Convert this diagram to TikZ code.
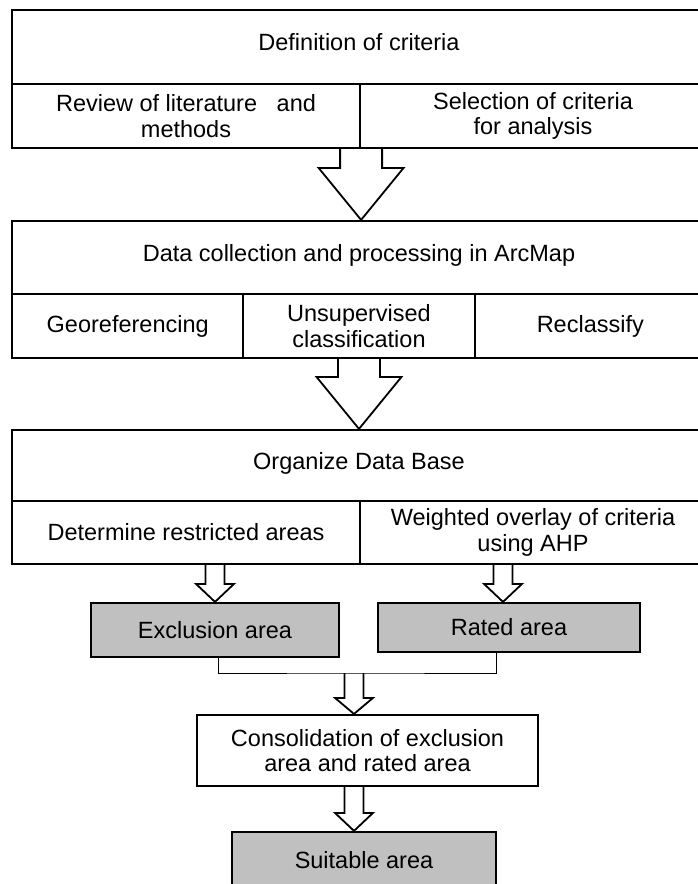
\documentclass[tikz,border=0pt]{standalone}
\usepackage{fontspec}
\setmainfont{Liberation Sans}
\usetikzlibrary{calc}
\definecolor{areagray}{RGB}{192,192,192}

% hollow block arrow: start, tip, shaft half width, head half width, head length
\newcommand{\blockarrow}[5]{%
    \draw[hollow]
        ($(#1)+(-#3,0)$) -- ($(#2)+(-#3,-#5)$) -- ($(#2)+(-#4,-#5)$) -- (#2)
        -- ($(#2)+(#4,-#5)$) -- ($(#2)+(#3,-#5)$) -- ($(#1)+(#3,0)$);
}

\begin{document}
\begin{tikzpicture}
    [
        x=1pt, y=-1pt,
        cell/.style={draw, line width=2.2pt, align=center, inner sep=0pt,
            font=\fontsize{23.5}{25.5}\selectfont},
        title/.style={cell, text depth=10pt},
        area/.style={cell, fill=areagray},
        hollow/.style={line width=1.8pt, line join=miter},
        link/.style={draw, line width=0.9pt}
    ]
        \useasboundingbox (0,0) rectangle (697,884);

        % definition of criteria
        \node[title, minimum width=694pt, minimum height=74pt] (crit) at (359,47) {Definition of criteria};
        \node[cell, minimum width=348pt, minimum height=64pt] (review) at (186,116) {Review of literature~~~and\\methods};
        \node[cell, minimum width=346pt, minimum height=64pt] (select) at (533,116) {Selection of criteria\\for analysis};

        % data collection
        \node[title, minimum width=694pt, minimum height=73pt] (data) at (359,257.5) {Data collection and processing in ArcMap};
        \node[cell, minimum width=231.3pt, minimum height=64pt] (geo) at (127.7,326) {Georeferencing};
        \node[cell, minimum width=231.3pt, minimum height=64pt] (unsup) at (359,326) {Unsupervised\\classification};
        \node[cell, minimum width=231.3pt, minimum height=64pt] (recl) at (590.3,326) {Reclassify};

        % data base
        \node[title, minimum width=694pt, minimum height=71pt] (organize) at (359,465.5) {Organize Data Base};
        \node[cell, minimum width=348pt, minimum height=63pt] (restrict) at (186,532.5) {Determine restricted areas};
        \node[cell, minimum width=346pt, minimum height=63pt] (weighted) at (533,532.5) {Weighted overlay of criteria\\using AHP};

        % results
        \node[area, minimum width=248pt, minimum height=54pt] (excl) at (215,630) {Exclusion area};
        \node[area, minimum width=262pt, minimum height=49pt] (rated) at (509,627.5) {Rated area};
        \node[cell, minimum width=341pt, minimum height=71pt] (consol) at (367.5,750.5) {Consolidation of exclusion\\area and rated area};
        \node[area, minimum width=264pt, minimum height=56pt] (suit) at (364,860) {Suitable area};

        \coordinate (join) at (354,673);
        \draw[link] ([xshift=3pt]excl.south) |- (join) -| ([xshift=-13pt]rated.south);

        \coordinate (tip1) at (review.south east |- data.north);
        \coordinate (tip2) at (unsup.south |- organize.north);
        \coordinate (from3) at (excl.north |- restrict.south);
        \coordinate (tip4) at ([xshift=-6pt]rated.north);
        \coordinate (from4) at (tip4 |- weighted.south);
        \coordinate (tip5) at (join |- consol.north);
        \coordinate (from6) at (join |- consol.south);
        \coordinate (tip6) at (join |- suit.north);

        \blockarrow{review.south east}{tip1}{21}{42.5}{52}
        \blockarrow{unsup.south}{tip2}{21}{42.5}{52}
        \blockarrow{from3}{excl.north}{9.5}{19}{18}
        \blockarrow{from4}{tip4}{9.5}{19}{18}
        \blockarrow{join}{tip5}{9.5}{19}{16}
        \blockarrow{from6}{tip6}{9.5}{19}{18}

    \end{tikzpicture}
\end{document}
